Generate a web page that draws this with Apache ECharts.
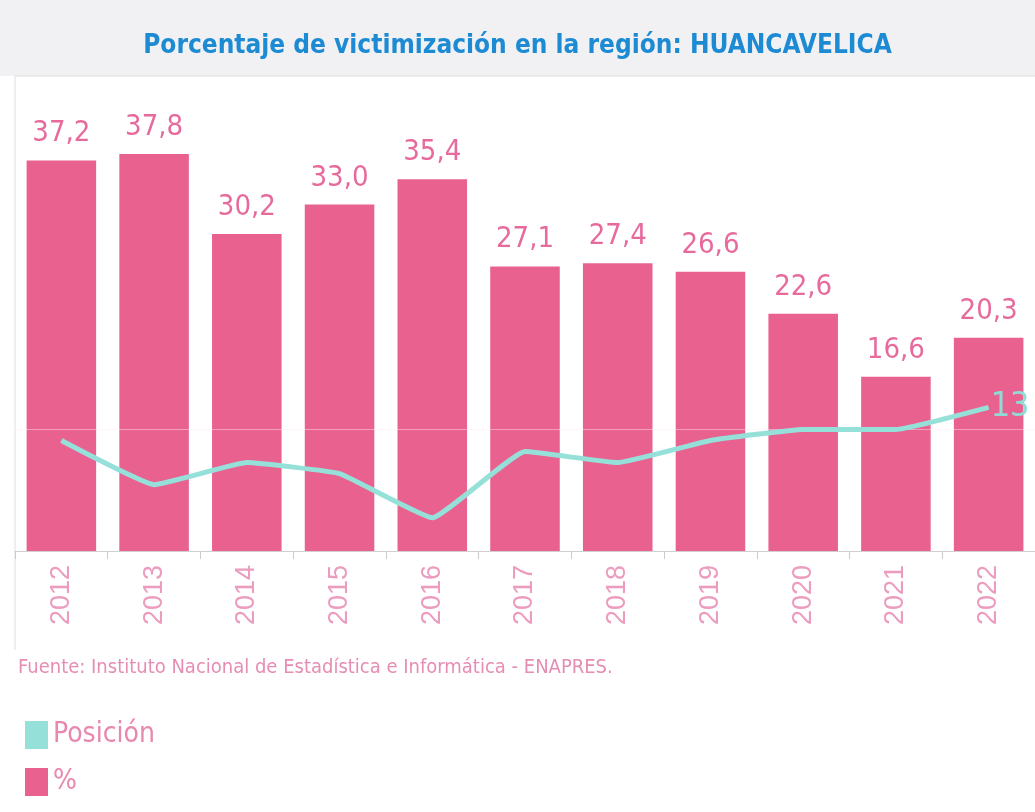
<!DOCTYPE html>
<html>
<head>
<meta charset="utf-8">
<script src="https://cdn.jsdelivr.net/npm/echarts@6/dist/echarts.min.js"></script>
<style>
  html, body { margin: 0; padding: 0; background: #fff; }
  #chart { width: 1035px; height: 812px; }
</style>
</head>
<body>
<div id="chart"></div>
<script>
const years = ['2012', '2013', '2014', '2015', '2016', '2017', '2018', '2019', '2020', '2021', '2022']
const porcentaje = [37.2, 37.8, 30.2, 33.0, 35.4, 27.1, 27.4, 26.6, 22.6, 16.6, 20.3]
// ranking among regions, only the last one is labelled in the picture
const posicion = [16, 20, 18, 19, 23, 17, 18, 16, 15, 15, 13]

const narrow = '"Liberation Sans Narrow", "DejaVu Sans Condensed", "Liberation Sans", sans-serif'
const pink = '#e9628f'
const teal = '#96e0da'

const chart = echarts.init(document.getElementById('chart'))
const option = {
  animation: false,
  title: {
    text: 'Porcentaje de victimización en la región: HUANCAVELICA',
    left: 'center',
    top: 28,
    textStyle: {
      color: '#1c8bd3',
      fontSize: 26,
      fontWeight: 'bold',
      fontFamily: narrow,
    },
  },
  graphic: [
    {
      type: 'rect',
      z: -10,
      shape: { x: 0, y: 0, width: 1035, height: 76 },
      style: { fill: '#f1f1f3' },
    },
    {
      type: 'line',
      z: -5,
      shape: { x1: 15, y1: 76, x2: 1035, y2: 76 },
      style: { stroke: '#dcdcdc', lineWidth: 1 },
    },
    {
      type: 'line',
      z: -5,
      shape: { x1: 15, y1: 76, x2: 15, y2: 650 },
      style: { stroke: '#dedede', lineWidth: 1 },
    },
    {
      type: 'text',
      left: 18,
      top: 658,
      style: {
        text: 'Fuente: Instituto Nacional de Estadística e Informática - ENAPRES.',
        fill: '#e68db4',
        font: '20px ' + narrow,
      },
    },
  ],
  legend: {
    orient: 'vertical',
    left: 20,
    top: 716,
    itemWidth: 23,
    itemHeight: 28,
    itemGap: 19,
    icon: 'rect',
    data: ['Posición', '%'],
    textStyle: {
      color: '#e888b0',
      fontSize: 28,
      fontFamily: narrow,
    },
  },
  grid: {
    left: 15,
    right: 0,
    top: 131,
    bottom: 261,
  },
  xAxis: {
    type: 'category',
    data: years,
    axisLine: { lineStyle: { color: '#d0d0d0' } },
    axisTick: { show: true, lineStyle: { color: '#cccccc' }, length: 8 },
    axisLabel: {
      rotate: 90,
      color: '#eb9cbf',
      fontSize: 27,
      fontFamily: '"Liberation Sans", sans-serif',
      margin: 14,
    },
  },
  yAxis: [
    {
      type: 'value',
      min: 0,
      max: 40,
      show: false,
      splitLine: { show: false },
    },
    {
      type: 'value',
      inverse: true,
      min: -12,
      max: 26,
      show: false,
      splitLine: { show: false },
    },
  ],
  series: [
    {
      name: '%',
      type: 'bar',
      data: porcentaje,
      barWidth: '75%',
      itemStyle: { color: pink },
      label: {
        show: true,
        position: 'top',
        distance: 12,
        color: '#e76a9d',
        fontSize: 29,
        fontFamily: narrow,
        formatter: (p) => p.value.toFixed(1).replace('.', ','),
      },
    },
    {
      name: 'Posición',
      type: 'line',
      yAxisIndex: 1,
      data: posicion,
      symbol: 'none',
      smooth: 0.1,
      z: 5,
      lineStyle: { color: teal, width: 5 },
      itemStyle: { color: teal },
      endLabel: {
        show: true,
        color: '#8fdcd6',
        fontSize: 34,
        fontFamily: narrow,
        distance: 2,
      },
      markLine: {
        silent: true,
        symbol: 'none',
        label: { show: false },
        lineStyle: { color: 'rgba(255,235,242,0.45)', width: 1, type: 'solid' },
        data: [{ yAxis: 15 }],
      },
    },
  ],
}
chart.setOption(option)
</script>
</body>
</html>
